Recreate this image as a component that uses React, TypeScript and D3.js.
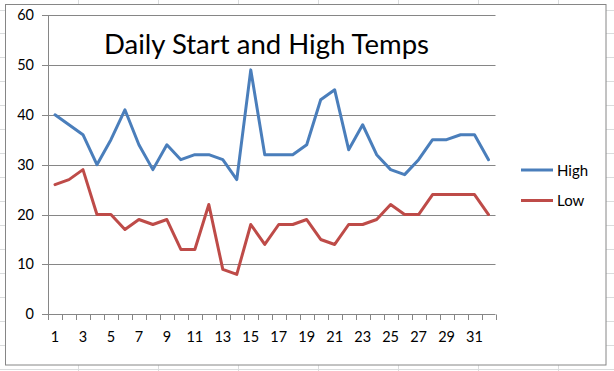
import React from "react";
import * as d3 from "d3";

const days = d3.range(1, 33);
const highTemps = [40, 38, 36, 30, 35, 41, 34, 29, 34, 31, 32, 32, 31, 27, 49, 32, 32, 32, 34, 43, 45, 33, 38, 32, 29, 28, 31, 35, 35, 36, 36, 31];
const lowTemps = [26, 27, 29, 20, 20, 17, 19, 18, 19, 13, 13, 22, 9, 8, 18, 14, 18, 18, 19, 15, 14, 18, 18, 19, 22, 20, 20, 24, 24, 24, 24, 20];
const yTicks = [0, 10, 20, 30, 40, 50, 60];
const seriesNames = ["High", "Low"];
const seriesColors = ["#4A7EBB", "#BE4B48"];
const title = "Daily Start and High Temps";

const W = 614;
const H = 371;
const FONT = "Lato, 'Open Sans', sans-serif";

export default function App() {
  const x = d3.scaleBand<number>().domain(days).range([48, 495.5]).padding(0);
  const y = d3.scaleLinear().domain([0, 60]).range([314.3, 15]);
  const cx = (d: number) => (x(d) as number) + x.bandwidth() / 2;
  const line = d3
    .line<number>()
    .x((_, i) => cx(days[i]))
    .y((v) => y(v));
  const series = [highTemps, lowTemps];

  const cellCols = d3.range(0, 8).map((i) => 78 + i * 80);
  const cellRows = d3.range(0, 16).map((i) => 9.5 + i * 23.95);
  const boundaries = d3.range(0, days.length + 1).map((i) => 48 + i * x.bandwidth());

  return (
    <svg
      width={W}
      height={H}
      style={{ position: "absolute", left: 0, top: 0, background: "#fff" }}
    >
      {/* spreadsheet cell grid */}
      {cellCols.map((cx0) => (
        <line key={"c" + cx0} x1={cx0 + 0.5} x2={cx0 + 0.5} y1={0} y2={H} stroke="#DADCDD" strokeWidth={1} />
      ))}
      {cellRows.map((ry) => (
        <line key={"r" + ry} x1={0} x2={W} y1={Math.round(ry) + 0.5} y2={Math.round(ry) + 0.5} stroke="#DADCDD" strokeWidth={1} />
      ))}
      {/* chart area */}
      <rect x={5.5} y={4.5} width={600.5} height={360.5} fill="#fff" stroke="#868686" strokeWidth={1} />

      {/* gridlines */}
      {yTicks.map((t) => (
        <line key={"g" + t} x1={42} x2={495.5} y1={Math.round(y(t)) + 0.5} y2={Math.round(y(t)) + 0.5} stroke="#868686" strokeWidth={1} />
      ))}
      {/* y axis */}
      <line x1={48.5} x2={48.5} y1={15} y2={314.8} stroke="#868686" strokeWidth={1} />
      {yTicks.map((t) => (
        <text key={"yl" + t} x={34} y={y(t) + 5} textAnchor="end" fontFamily={FONT} fontSize={14.5} fill="#000">
          {t}
        </text>
      ))}
      {/* x axis ticks */}
      {boundaries.map((bx, i) => (
        <line key={"xt" + i} x1={Math.round(bx) + 0.5} x2={Math.round(bx) + 0.5} y1={314.5} y2={320} stroke="#868686" strokeWidth={1} />
      ))}
      {days
        .filter((d) => d % 2 === 1)
        .map((d) => (
          <text key={"xl" + d} x={cx(d)} y={342} textAnchor="middle" fontFamily={FONT} fontSize={14.5} fill="#000">
            {d}
          </text>
        ))}

      {/* series lines */}
      {series.map((s, i) => (
        <path key={"s" + i} d={line(s) || ""} fill="none" stroke={seriesColors[i]} strokeWidth={3} strokeLinejoin="round" strokeLinecap="round" />
      ))}

      {/* title */}
      <text x={104} y={54} fontFamily={FONT} fontSize={26} textLength={325} lengthAdjust="spacingAndGlyphs" fill="#000">
        {title}
      </text>

      {/* legend */}
      {seriesNames.map((n, i) => (
        <g key={"lg" + n} transform={`translate(0, ${170 + i * 30.5})`}>
          <line x1={521} x2={553} y1={0} y2={0} stroke={seriesColors[i]} strokeWidth={3} />
          <text x={557} y={5.5} fontFamily={FONT} fontSize={15} fill="#000">
            {n}
          </text>
        </g>
      ))}
    </svg>
  );
}
